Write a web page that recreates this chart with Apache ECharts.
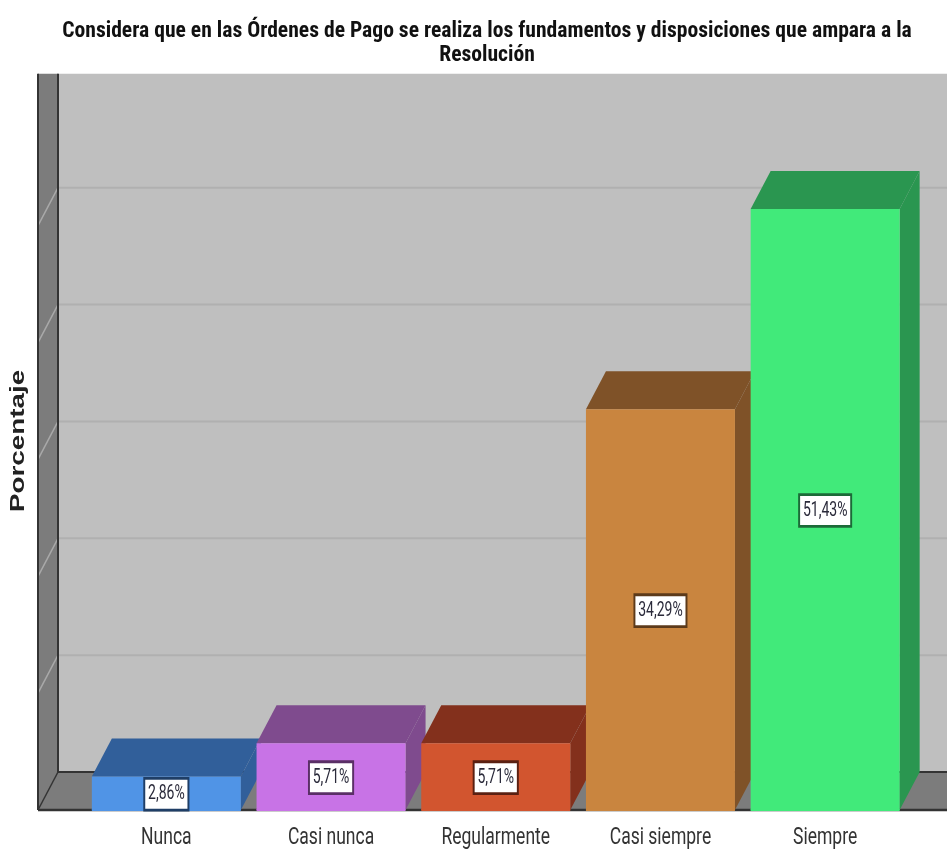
<!DOCTYPE html>
<html><head><meta charset="utf-8">
<style>html,body{margin:0;padding:0;background:#fff}#c{width:947px;height:850px}</style>
<script src="https://cdn.jsdelivr.net/npm/echarts@6/dist/echarts.min.js"></script>
</head><body><div id="c"></div>
<script>
const titleText = 'Considera que en las Órdenes de Pago se realiza los fundamentos y disposiciones que ampara a la\nResolución';
const yAxisName = 'Porcentaje';
const categories = ['Nunca','Casi nunca','Regularmente','Casi siempre','Siempre'];
const percentages = [2.86,5.71,5.71,34.29,51.43];
const percentLabels = ['2,86%','5,71%','5,71%','34,29%','51,43%'];
const gridTicks = [10,20,30,40,50];
const frontColors = ['#5094e6','#c873e6','#d2552f','#c9853f','#41ea7a'];
const darkColors = ['#315f9a','#7f4b8e','#83301c','#7f5228','#2a9650'];
const borderColors = ['#1f3e66','#5a2f66','#5a2012','#5c3a1a','#1c6a38'];
const DX = 20, DY = -38, BAR_W = 149;

const chart = echarts.init(document.getElementById('c'),null,{renderer:'canvas'});

function wallItem(p, api){
  const o = api.coord([0,0]);
  const gridX = p.coordSys.x, gridY = p.coordSys.y, W = p.coordSys.width;
  const left = gridX - 46, right = gridX + W + 40;
  const bx = left + DX, by = o[1] + DY;
  const line = (x1,y1,x2,y2,c,w)=>({type:'line',shape:{x1,y1,x2,y2},style:{stroke:c,lineWidth:w}});
  const kids = [
    {type:'rect',shape:{x:bx,y:gridY,width:right-bx,height:by-gridY},style:{fill:'#bfbfbf'}},
    {type:'polygon',shape:{points:[[left,gridY],[bx,gridY],[bx,by],[left,o[1]]]},style:{fill:'#7c7c7c'}},
    {type:'polygon',shape:{points:[[left,o[1]],[bx,by],[right,by],[right,o[1]]]},style:{fill:'#7c7c7c'}}
  ];
  gridTicks.forEach(t=>{
    const y = api.coord([0,t])[1];
    kids.push(line(bx,y+DY,right,y+DY,'#b0b0b0',2));
    kids.push(line(left,y,bx,y+DY,'#a9a9a9',1.5));
  });
  kids.push(line(left,gridY,left,o[1],'#333',2));
  kids.push(line(bx,gridY,bx,by,'#333',2));
  kids.push(line(bx,by,right,by,'#333',2));
  kids.push(line(left,o[1],bx,by,'#333',1.5));
  kids.push(line(left,o[1],right,o[1],'#333',2.5));
  kids.push({type:'text',x:18,y:(gridY+o[1])/2-1,rotation:Math.PI/2,scaleX:1.39,
    style:{text:yAxisName,font:'bold 20px "Liberation Sans"',fill:'#222',align:'center',verticalAlign:'middle'}});
  return {type:'group',children:kids};
}
function barItem(p, api){
  const i = api.value(0), v = api.value(1);
  const c = api.coord([i,v]), o = api.coord([i,0]);
  const x0 = c[0]-BAR_W/2, x1 = c[0]+BAR_W/2, t = c[1], b = o[1];
  return {type:'group',children:[
    {type:'polygon',shape:{points:[[x0,t],[x0+DX,t+DY],[x1+DX,t+DY],[x1,t]]},style:{fill:darkColors[i]}},
    {type:'polygon',shape:{points:[[x1,t],[x1+DX,t+DY],[x1+DX,b+DY],[x1,b]]},style:{fill:darkColors[i]}},
    {type:'rect',shape:{x:x0,y:t,width:BAR_W,height:b-t},style:{fill:frontColors[i]}},
    {type:'line',shape:{x1:x0,y1:b,x2:x1,y2:b},style:{stroke:frontColors[i],lineWidth:2}},
    {type:'text',x:c[0],y:(t+b)/2+1,scaleX:0.7,style:{text:percentLabels[i],fill:'#2a2a3a',font:'20px Roboto',align:'center',verticalAlign:'middle',
      backgroundColor:'#fff',borderColor:borderColors[i],borderWidth:2.8,padding:[5,4,4,4]}},
    {type:'text',x:c[0],y:b+28,scaleX:0.73,style:{text:categories[i],fill:'#333',font:'24px Roboto',align:'center',verticalAlign:'middle'}}
  ]};
}
chart.setOption({
  animation:false,
  title:{text:titleText,left:482,top:15,textAlign:'center',textStyle:{fontFamily:'Roboto',fontStyle:'condensed',fontWeight:'bold',fontSize:21.6,lineHeight:24,color:'#111'}},
  grid:{left:84,right:39.5,top:73.8,bottom:40},
  xAxis:{type:'category',data:categories,axisLine:{show:false},axisTick:{show:false},axisLabel:{show:false}},
  yAxis:{type:'value',min:0,max:63,interval:10,axisLine:{show:false},axisTick:{show:false},axisLabel:{show:false},splitLine:{show:false}},
  series:[
    {type:'custom',data:[[0,0]],renderItem:wallItem,clip:false,silent:true,z:1},
    {type:'custom',data:percentages.map((v,i)=>[i,v]),renderItem:barItem,clip:false,z:2,encode:{x:0,y:1}}
  ]
});
</script></body></html>
